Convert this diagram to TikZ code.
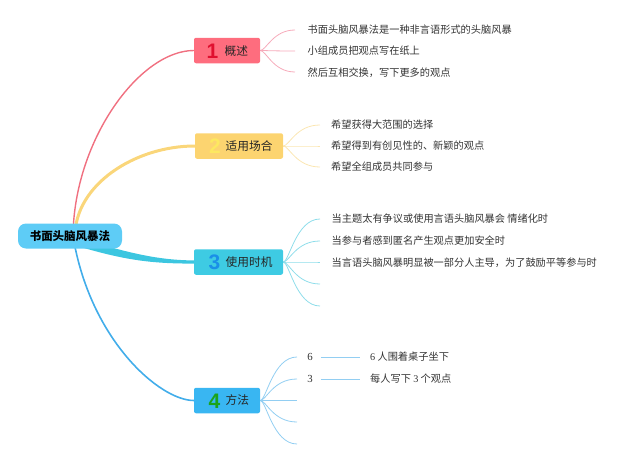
\documentclass[tikz,border=0pt]{standalone}
\usepackage{fontspec}
\setmainfont{Noto Sans CJK SC}
\newfontfamily\numfont{Liberation Sans}
\newfontfamily\serfont{Liberation Serif}
\usetikzlibrary{calc}
\pgfdeclarelayer{background}
\pgfsetlayers{background,main}
\definecolor{txt}{HTML}{333333}
\definecolor{c1}{HTML}{FE6D7E}
\definecolor{c1n}{HTML}{E0102F}
\definecolor{c1l}{HTML}{F07080}
\definecolor{c1s}{HTML}{F6AABA}
\definecolor{c2}{HTML}{FCD470}
\definecolor{c2n}{HTML}{FDE860}
\definecolor{c2l}{HTML}{FAD67A}
\definecolor{c2s}{HTML}{FBE6B2}
\definecolor{c3}{HTML}{3ECBE3}
\definecolor{c3n}{HTML}{1A8FE8}
\definecolor{c3l}{HTML}{3CC6E0}
\definecolor{c3s}{HTML}{8EDDEA}
\definecolor{c4}{HTML}{39B6F2}
\definecolor{c4n}{HTML}{1BA31B}
\definecolor{c4l}{HTML}{42ADEA}
\definecolor{c4s}{HTML}{92CEF2}
\definecolor{rootc}{HTML}{5ECCF6}
\begin{document}
\begin{tikzpicture}[x=1pt,y=-1pt,
  rootbox/.style={fill=rootc,rounded corners=8pt,minimum width=104pt,minimum height=25pt,inner sep=0pt,font=\fontsize{11.5}{12}\selectfont\bfseries,text=black},
  mainbox/.style={rounded corners=2pt,minimum height=25.5pt,inner sep=0pt},
  numlab/.style={inner sep=0pt,font=\fontsize{21}{22}\numfont\bfseries},
  mainlab/.style={anchor=west,inner sep=0pt,font=\fontsize{11.7}{12}\selectfont,text=black!85},
  item/.style={anchor=west,inner sep=0pt,font=\fontsize{10.2}{11}\selectfont,text=txt},
  subb/.style={line width=0.8pt}]
\useasboundingbox (0,0) rectangle (640,463);

% root
\node[rootbox] (root) at (70,236) {书面头脑风暴法};

% main nodes
\node[mainbox,fill=c1,minimum width=66pt] (n1) at (227,50.5) {};
\node[numlab,text=c1n] (n1num) at (212.5,51) {1};
\node[mainlab] (n1lab) at (224.5,51) {概述};

\node[mainbox,fill=c2,minimum width=88pt] (n2) at (239,146) {};
\node[numlab,text=c2n] (n2num) at (215,146.5) {2};
\node[mainlab] (n2lab) at (225.5,146) {适用场合};

\node[mainbox,fill=c3,minimum width=89pt] (n3) at (238.5,262) {};
\node[numlab,text=c3n] (n3num) at (214.5,262.5) {3};
\node[mainlab] (n3lab) at (225.5,262) {使用时机};

\node[mainbox,fill=c4,minimum width=66pt] (n4) at (227,400.5) {};
\node[numlab,text=c4n] (n4num) at (214.5,401) {4};
\node[mainlab] (n4lab) at (225.5,400.5) {方法};

% branch end points
\coordinate (b11) at (295,30);
\coordinate (b12) at (295,51);
\coordinate (b13) at (295,72);
\coordinate (b21) at (320,125);
\coordinate (b22) at (320,146);
\coordinate (b23) at (320,167);
\coordinate (b31) at (320,219);
\coordinate (b32) at (320,241);
\coordinate (b33) at (320,262);
\coordinate (b34) at (320,284);
\coordinate (b35) at (320,306);
\coordinate (b41) at (297,357);
\coordinate (b42) at (297,379);
\coordinate (b43) at (297,400.5);
\coordinate (b44) at (297,422);
\coordinate (b45) at (297,444);

% texts
\node[item] (t11) at (307.5,30) {书面头脑风暴法是一种非言语形式的头脑风暴};
\node[item] (t12) at (307.5,51) {小组成员把观点写在纸上};
\node[item] (t13) at (307.5,73) {然后互相交换，写下更多的观点};
\node[item] (t21) at (331,125) {希望获得大范围的选择};
\node[item] (t22) at (331,146) {希望得到有创见性的、新颖的观点};
\node[item] (t23) at (331,167) {希望全组成员共同参与};
\node[item] (t31) at (331.5,219) {当主题太有争议或使用言语头脑风暴会 情绪化时};
\node[item] (t32) at (331.5,241) {当参与者感到匿名产生观点更加安全时};
\node[item] (t33) at (331.5,263) {当言语头脑风暴明显被一部分人主导，为了鼓励平等参与时};
\node[item,anchor=center,font=\fontsize{10.8}{11}\serfont] (t41) at (310,357) {6};
\node[item,anchor=center,font=\fontsize{10.8}{11}\serfont] (t42) at (310,379) {3};
\node[item] (t41b) at (370,357) {{\serfont 6} 人围着桌子坐下};
\node[item] (t42b) at (370,379) {每人写下 {\serfont 3} 个观点};

\begin{pgfonlayer}{background}
% main connectors
\draw[c1l,line width=1.4pt] ($(root.center)+(3,0)$) .. controls +(1,-96) and +(-54,0) .. (n1.west);
\draw[c2l,line width=3pt] ($(root.center)+(5,0)$) .. controls +(0,-51) and +(-60,0) .. (n2.west);
\fill[c3l] ($(root.center)+(8,2)$) .. controls +(45,13) and +(-40,0) .. ($(n3.west)+(1,-1.6)$)
   -- ($(n3.west)+(1,1.6)$) .. controls +(-40,0) and +(45,13) .. ($(root.center)+(14,12)$) -- cycle;
\draw[c4l,line width=1.6pt] ($(root.center)+(3,0)$) .. controls +(17,104) and +(-34,0) .. (n4.west);

% sub branches
\foreach \b in {b11,b12,b13}
  \draw[subb,c1s] (n1.east) .. controls +(6,0) and +(-22,0) .. (\b);
\foreach \b in {b21,b22,b23}
  \draw[subb,c2s] (n2.east) .. controls +(6,0) and +(-24,0) .. (\b);
\foreach \b in {b31,b32,b33,b34,b35}
  \draw[subb,c3s] (n3.east) .. controls +(6,0) and +(-24,0) .. (\b);
\foreach \b in {b41,b42,b43,b44,b45}
  \draw[subb,c4s] (n4.east) .. controls +(6,0) and +(-24,0) .. (\b);

\draw[subb,c4s,line width=1pt] (t41.east) ++(8,0) -- ($(t41b.west)+(-10,0)$);
\draw[subb,c4s,line width=1pt] (t42.east) ++(8,0) -- ($(t42b.west)+(-10,0)$);
\end{pgfonlayer}
\end{tikzpicture}
\end{document}
